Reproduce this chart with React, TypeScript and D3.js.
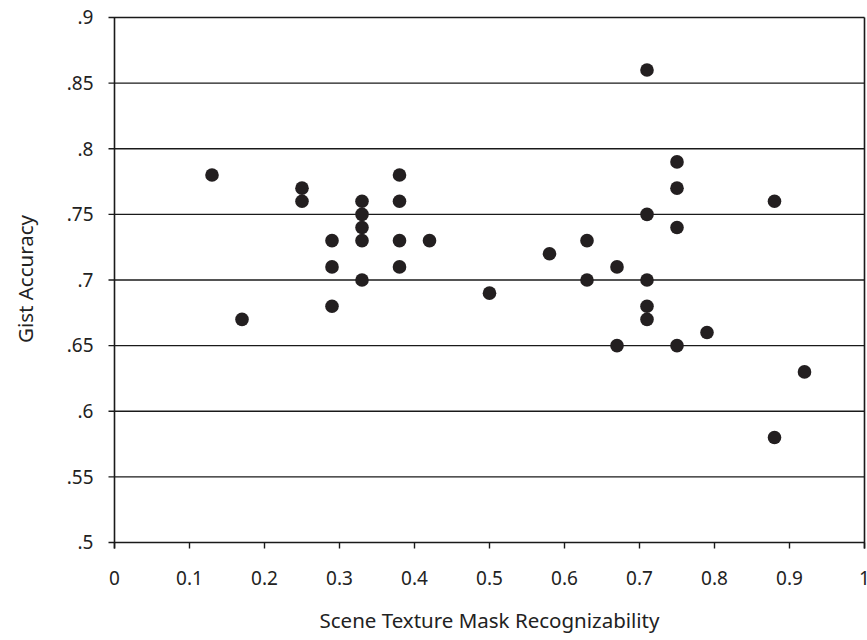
import React from 'react';
import * as d3 from 'd3';

// scene texture mask recognizability vs gist accuracy, one entry per scene
const recognizability = [
  0.13, 0.17, 0.25, 0.25, 0.29, 0.29, 0.29, 0.33, 0.33, 0.33, 0.33, 0.33,
  0.38, 0.38, 0.38, 0.38, 0.42, 0.5, 0.58, 0.63, 0.63, 0.67, 0.67, 0.71,
  0.71, 0.71, 0.71, 0.71, 0.75, 0.75, 0.75, 0.75, 0.79, 0.88, 0.88, 0.92,
];
const gistAccuracy = [
  0.78, 0.67, 0.77, 0.76, 0.73, 0.71, 0.68, 0.76, 0.75, 0.74, 0.73, 0.7,
  0.78, 0.76, 0.73, 0.71, 0.73, 0.69, 0.72, 0.73, 0.7, 0.71, 0.65, 0.86,
  0.75, 0.7, 0.68, 0.67, 0.79, 0.77, 0.74, 0.65, 0.66, 0.76, 0.58, 0.63,
];
const xTicks = [0, 0.1, 0.2, 0.3, 0.4, 0.5, 0.6, 0.7, 0.8, 0.9, 1];
const yTicks = [0.5, 0.55, 0.6, 0.65, 0.7, 0.75, 0.8, 0.85, 0.9];

const width = 867;
const height = 640;
const left = 114.5;
const right = 864.5;
const top = 17.5;
const bottom = 542.5;
const font = "'Noto Sans', 'Open Sans', sans-serif";

export default function App() {
  const x = d3.scaleLinear().domain([0, 1]).range([left, right]);
  const y = d3.scaleLinear().domain([0.5, 0.9]).range([bottom, top]);
  const fmtY = (v: number) => d3.format('.2~f')(v).replace(/^0/, '');
  const points = recognizability.map((r, i) => ({ r, g: gistAccuracy[i] }));

  return (
    <svg width={width} height={height} style={{ position: 'absolute', left: 0, top: 0, background: '#fff' }}>
      {/* gridlines + y ticks */}
      {yTicks.map(t => (
        <g key={'y' + t}>
          <line x1={left - 6} x2={right} y1={y(t)} y2={y(t)} stroke="#1a1a1a" strokeWidth={1.4} />
          <text x={left - 21} y={y(t)} dy="0.36em" textAnchor="end" fontFamily={font} fontSize={19} fill="#222">
            {fmtY(t)}
          </text>
        </g>
      ))}
      {/* x ticks */}
      {xTicks.map(t => (
        <g key={'x' + t}>
          <line x1={x(t)} x2={x(t)} y1={bottom} y2={bottom + 6} stroke="#1a1a1a" strokeWidth={1.4} />
          <text x={x(t)} y={585} textAnchor="middle" fontFamily={font} fontSize={19} fill="#222">
            {d3.format('~g')(t)}
          </text>
        </g>
      ))}
      {/* axes and right border */}
      <line x1={left} x2={left} y1={top} y2={bottom + 6} stroke="#1a1a1a" strokeWidth={1.6} />
      <line x1={right} x2={right} y1={top} y2={bottom + 6} stroke="#1a1a1a" strokeWidth={1.6} />

      {points.map((p, i) => (
        <circle key={i} cx={x(p.r)} cy={y(p.g)} r={6.8} fill="#231f20" />
      ))}

      <text x={(left + right) / 2} y={628} textAnchor="middle" fontFamily={font} fontSize={20.5} fill="#222">
        Scene Texture Mask Recognizability
      </text>
      <text transform={`translate(33,279) rotate(-90)`} textAnchor="middle" fontFamily={font} fontSize={20.5} fill="#222">
        Gist Accuracy
      </text>
    </svg>
  );
}
